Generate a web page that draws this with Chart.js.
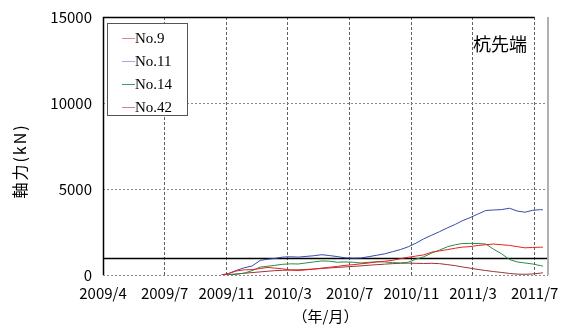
<!DOCTYPE html>
<html>
<head>
<meta charset="utf-8">
<script src="https://cdn.jsdelivr.net/npm/chart.js@4.4.1/dist/chart.umd.min.js"></script>
<style>
  html, body { margin: 0; padding: 0; background: #fff; }
  canvas { display: block; }
</style>
</head>
<body>
<canvas id="c" width="570" height="332"></canvas>
<script>
// Measurement dates (semi-monthly readings)
const dates = [
  '2009-11-18','2009-12-01','2009-12-16','2010-01-01','2010-01-16','2010-02-01','2010-02-16',
  '2010-03-01','2010-03-16','2010-04-01','2010-04-16','2010-05-01','2010-05-16','2010-06-01',
  '2010-06-16','2010-07-01','2010-07-16','2010-08-01','2010-08-16','2010-09-01','2010-09-16',
  '2010-10-01','2010-10-16','2010-11-01','2010-11-16','2010-12-01','2010-12-16','2011-01-01',
  '2011-01-16','2011-02-01','2011-02-16','2011-03-01','2011-03-16','2011-04-01','2011-04-16',
  '2011-05-01','2011-05-16','2011-06-01','2011-06-16','2011-07-01','2011-07-16','2011-08-01',
  '2011-08-05'
];

// Axial force at pile tip (kN)
const no9 = [
  0, 80, 230, 300, 310, 380, 440, 400, 360, 290, 260, 300, 340, 400, 450, 500, 560, 600, 650, 700, 760,
  800, 850, 950, 1030, 1100, 1170, 1330, 1400, 1480, 1560, 1620, 1650, 1720, 1760, 1800, 1760, 1720,
  1650, 1580, 1600, 1620, 1610
];
const no11 = [
  0, 80, 260, 420, 520, 850, 920, 960, 1040, 1060, 1040, 1080, 1120, 1180, 1130, 1070, 1000, 980, 990,
  1070, 1150, 1230, 1350, 1480, 1640, 1850, 2100, 2320, 2520, 2750, 2950, 3150, 3330, 3550, 3750, 3780,
  3800, 3880, 3720, 3650, 3760, 3800, 3790
];
const no14 = [
  0, 0, 40, 110, 250, 460, 510, 560, 620, 650, 640, 700, 760, 820, 800, 740, 760, 740, 700, 740, 770,
  760, 720, 700, 740, 920, 1060, 1280, 1450, 1650, 1760, 1830, 1840, 1830, 1800, 1500, 1250, 900, 760,
  700, 640, 540, 520
];
const no42 = [
  0, 20, 60, 100, 140, 180, 220, 250, 270, 290, 300, 320, 350, 380, 410, 440, 470, 500, 530, 570, 600,
  630, 660, 680, 690, 680, 670, 680, 660, 600, 540, 470, 400, 320, 260, 200, 150, 90, 50, 40, 60, 110,
  130
];

const seriesNames = ['No.9', 'No.11', 'No.14', 'No.42'];
const seriesColors = ['#e82020', '#3a48b0', '#229140', '#9a3434'];
const legendColors = ['#f08080', '#a0a8dc', '#3aa060', '#c88888'];

// Axis ticks: 120-day steps starting 2009/4/1
const tickLabels = ['2009/4', '2009/7', '2009/11', '2010/3', '2010/7', '2010/11', '2011/3', '2011/7'];
const tickStepDays = 120;
const originDate = '2009-04-01';
const endDay = 866;
const yTicks = [0, 5000, 10000, 15000];
const refLine = 1000;

const dayOf = s => (Date.parse(s) - Date.parse(originDate)) / 86400000;
const toPoints = vals => dates.map((d, i) => ({ x: dayOf(d), y: vals[i] }));

const FONT_JP = '"Noto Sans CJK JP", "Noto Sans", sans-serif';

const framePlugin = {
  id: 'frame',
  beforeDatasetsDraw(chart) {
    const { ctx, chartArea: a, scales } = chart;
    ctx.save();
    // reference level
    const yr = Math.round(scales.y.getPixelForValue(refLine)) + 0.5;
    ctx.strokeStyle = '#000';
    ctx.lineWidth = 1.5;
    ctx.beginPath();
    ctx.moveTo(a.left, yr);
    ctx.lineTo(a.right, yr);
    ctx.stroke();
    // left and top borders
    ctx.beginPath();
    ctx.moveTo(a.left + 0.5, a.bottom);
    ctx.lineTo(a.left + 0.5, a.top + 0.5);
    ctx.lineTo(scales.x.getPixelForValue(840), a.top + 0.5);
    ctx.stroke();
    // right border
    ctx.strokeStyle = '#b0b0b0';
    ctx.lineWidth = 2;
    ctx.beginPath();
    ctx.moveTo(a.right, a.top);
    ctx.lineTo(a.right, a.bottom);
    ctx.stroke();
    ctx.restore();
  },
  afterDraw(chart) {
    const { ctx, chartArea: a } = chart;
    ctx.save();
    // legend box
    const lx = 107, ly = 23, lw = 80, lh = 92;
    ctx.fillStyle = '#fff';
    ctx.fillRect(lx, ly, lw, lh);
    ctx.strokeStyle = '#555';
    ctx.lineWidth = 1;
    ctx.strokeRect(lx + 0.5, ly + 0.5, lw, lh);
    ctx.font = '15px "Liberation Serif", serif';
    ctx.textBaseline = 'middle';
    ctx.textAlign = 'left';
    chart.data.datasets.forEach((ds, i) => {
      const y = 38 + i * 23;
      ctx.strokeStyle = legendColors[i];
      ctx.beginPath();
      ctx.moveTo(122, y + 0.5);
      ctx.lineTo(135, y + 0.5);
      ctx.stroke();
      ctx.fillStyle = '#000';
      ctx.fillText(ds.label, 135, y + 1);
    });
    // panel caption
    ctx.font = '18px ' + FONT_JP;
    ctx.textAlign = 'center';
    ctx.fillText('杭先端', 500, 44);
    // axis titles
    ctx.font = '15px ' + FONT_JP;
    ctx.fillText('（年/月）', (a.left + a.right) / 2, 316);
    ctx.translate(20, 161);
    ctx.rotate(-Math.PI / 2);
    ctx.font = '16px ' + FONT_JP;
    ctx.letterSpacing = '2px';
    ctx.fillText('軸力(kN)', 0, 0);
    ctx.restore();
  }
};

const datasets = [no9, no11, no14, no42].map((vals, i) => ({
  label: seriesNames[i],
  data: toPoints(vals),
  borderColor: seriesColors[i],
  backgroundColor: seriesColors[i],
  borderWidth: 1,
  pointRadius: 0,
  tension: 0,
  fill: false
}));

new Chart(document.getElementById('c'), {
  type: 'line',
  data: { datasets },
  plugins: [framePlugin],
  options: {
    responsive: false,
    animation: false,
    layout: { padding: { left: 0, top: 17, right: 22, bottom: 0 } },
    plugins: { legend: { display: false }, tooltip: { enabled: false } },
    scales: {
      x: {
        type: 'linear',
        min: 0,
        max: endDay,
        afterBuildTicks: s => { s.ticks = tickLabels.map((_, i) => ({ value: i * tickStepDays })); },
        afterFit: s => { s.height = 57; s.paddingLeft = 0; s.paddingRight = 0; },
        ticks: {
          callback: (v, i) => tickLabels[i],
          autoSkip: false,
          maxRotation: 0,
          padding: 9,
          color: '#000',
          font: { family: FONT_JP, size: 15 }
        },
        grid: {
          drawTicks: false,
          color: c => (c.tick && c.tick.value === 0) ? 'rgba(0,0,0,0)' : '#606060',
          lineWidth: 1
        },
        border: { display: false, dash: [3, 2] }
      },
      y: {
        min: 0,
        max: 15000,
        afterBuildTicks: s => { s.ticks = yTicks.map(v => ({ value: v })); },
        afterFit: s => { s.width = 103; s.paddingTop = 0; s.paddingBottom = 0; },
        ticks: {
          callback: v => String(v),
          padding: 11,
          color: '#000',
          font: { family: FONT_JP, size: 15 }
        },
        grid: {
          drawTicks: false,
          color: c => (c.tick && c.tick.value === 15000) ? 'rgba(0,0,0,0)' : '#8a8a8a',
          lineWidth: 1
        },
        border: { display: false, dash: [2, 2] }
      }
    }
  }
});
</script>
</body>
</html>
